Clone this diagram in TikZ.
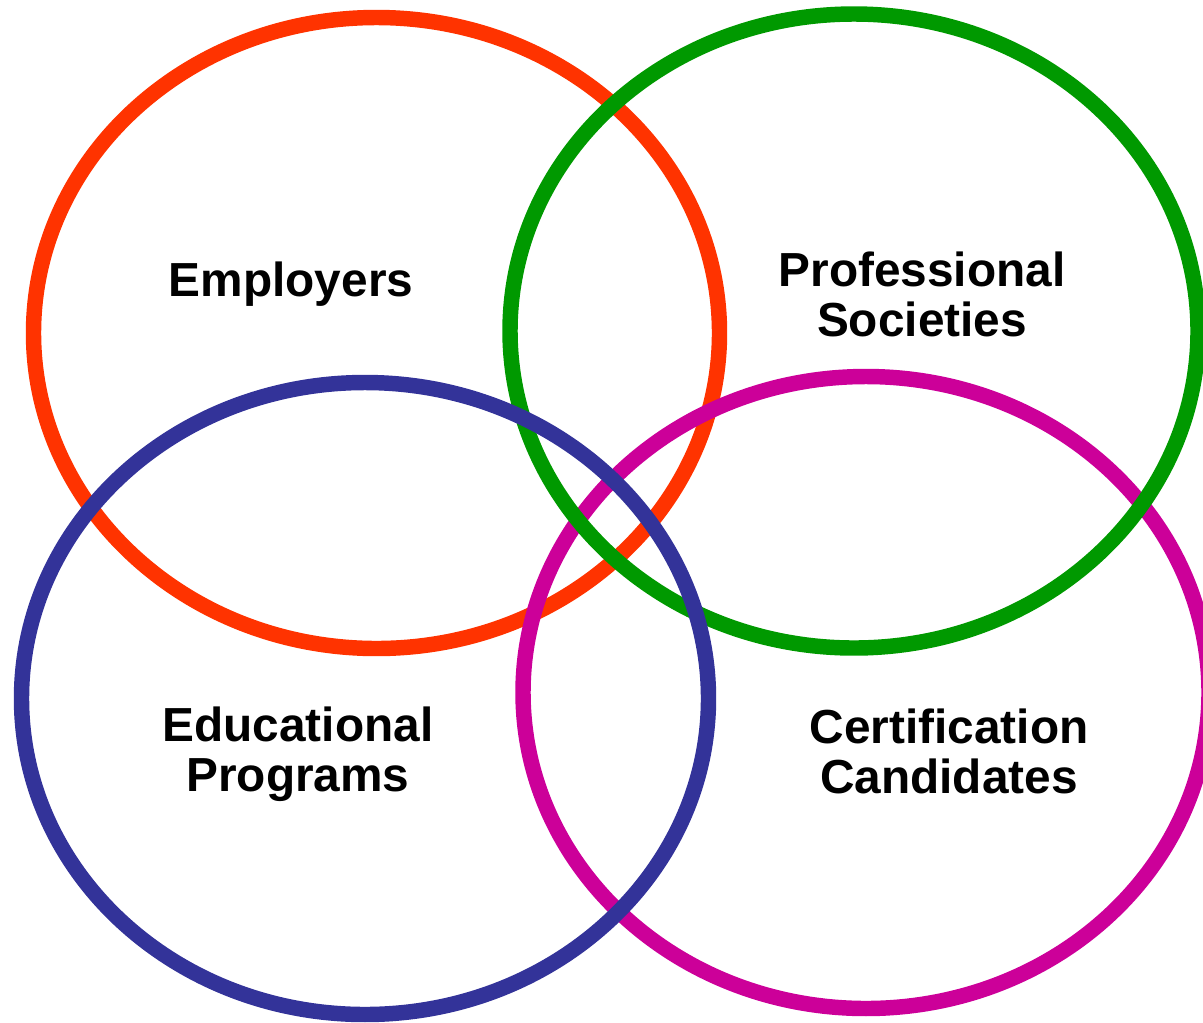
\documentclass[tikz,border=0pt]{standalone}
\usepackage{fontspec}
\setmainfont{Liberation Sans}
\definecolor{vennRed}{HTML}{FF3300}
\definecolor{vennGreen}{HTML}{009900}
\definecolor{vennBlue}{HTML}{333399}
\definecolor{vennMagenta}{HTML}{CC0099}

\begin{document}
\begin{tikzpicture}[
      x=0.02cm, y=-0.02cm,
      every node/.style={font=\bfseries\fontsize{27.2}{27.9}\selectfont,align=center,anchor=base},
      ring/.style={line width=8.8pt},
      ]
      \useasboundingbox (0,0) rectangle (1203,1022);
      % rings, bottom to top
      \draw[ring,vennRed]     (376.5,333) ellipse [x radius=343, y radius=315.5];
      \draw[ring,vennMagenta] (866,692.5) ellipse [x radius=343, y radius=316];
      \draw[ring,vennGreen]   (854,331)   ellipse [x radius=344, y radius=317];
      \draw[ring,vennBlue]    (365,698.5) ellipse [x radius=343.5, y radius=316];
      % labels (base = last line)
      \node (vennEmployers)     at (291,296) {Employers};
      \node (vennSocieties)     at (922,336) {Professional\\Societies};
      \node (vennPrograms)      at (298,791) {Educational\\Programs};
      \node (vennCandidates)    at (949,793) {Certification\\Candidates};
    \end{tikzpicture}
\end{document}
